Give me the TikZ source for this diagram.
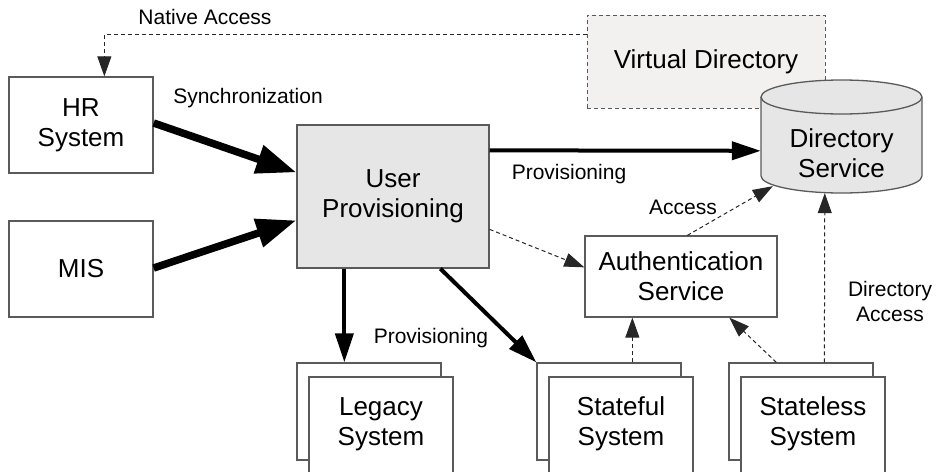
\documentclass[tikz,border=0pt]{standalone}
\usepackage{fontspec}
\setmainfont{Liberation Sans}
\usetikzlibrary{arrows.meta,calc}
\definecolor{edge}{HTML}{5A5A5A}
\definecolor{boxgray}{HTML}{E6E6E6}
\definecolor{vdgray}{HTML}{F2F1F0}
\tikzset{
  bigtext/.style={font=\fontsize{26}{30}\selectfont, align=center},
  lbl/.style={font=\fontsize{21}{25}\selectfont, align=center, inner sep=0pt},
  sysbox/.style={draw=edge, line width=1.3pt, fill=white, rectangle, inner sep=0pt,
    minimum width=144pt, minimum height=96pt, bigtext},
  stackback/.style={draw=edge, line width=1.3pt, fill=white, rectangle, inner sep=0pt,
    minimum width=144pt, minimum height=97pt},
  stackfront/.style={draw=edge, line width=1.3pt, fill=white, rectangle, inner sep=0pt,
    minimum width=144pt, minimum height=110pt},
  heavy/.style={line width=7.5pt, -{Triangle[length=40pt,width=28pt]}},
  medium/.style={line width=4pt, -{Triangle[length=29pt,width=18pt]}},
  dashlink/.style={line width=1pt, black!85, dash pattern=on 4pt off 3pt,
    -{Triangle[length=20pt,width=14pt]}},
}
\begin{document}
\begin{tikzpicture}[x=1pt,y=-1pt]
\useasboundingbox (0,0) rectangle (936,471);

% source systems
\node[sysbox] (hr)  at (81,125) {HR\\System};
\node[sysbox] (mis) at (81,269) {MIS};

% provisioning engine
\node[sysbox, fill=boxgray, minimum width=192pt, minimum height=143pt] (up) at (393,196.5) {User\\Provisioning};

% virtual directory (dashed)
\node[draw=edge, line width=1pt, dash pattern=on 4pt off 3pt, fill=vdgray, inner sep=0pt,
  minimum width=238pt, minimum height=93pt, bigtext] (vd) at (706,61.5) {Virtual Directory};

% directory service cylinder
\node[minimum width=161pt, minimum height=113pt, inner sep=0pt] (ds) at (841.5,136.5) {};
\fill[boxgray] (761,97) rectangle (922,176);
\fill[boxgray] (841.5,176) ellipse [x radius=80.5, y radius=17];
\fill[boxgray] (841.5,97) ellipse [x radius=80.5, y radius=17];
\draw[edge, line width=1.3pt] (761,97) -- (761,176)
  arc[start angle=180, end angle=0, x radius=80.5, y radius=17] -- (922,97);
\draw[edge, line width=1.3pt] (841.5,97) ellipse [x radius=80.5, y radius=17];
\node[bigtext, inner sep=0pt] (dstext) at (841.5,153) {Directory\\Service};

% authentication
\node[sysbox, minimum width=192pt, minimum height=81pt] (auth) at (681,276.5) {Authentication\\Service};

% stacked target systems (front sheet runs past the lower edge)
\node[stackback] (legb) at (369,411.5) {};
\node[stackfront] (leg) at (381,432) {};
\node[bigtext, inner sep=0pt] (legtext) at (381,424) {Legacy\\System};
\node[stackback] (sfb) at (609,411.5) {};
\node[stackfront] (sf) at (621,432) {};
\node[bigtext, inner sep=0pt] (sftext) at (621,424) {Stateful\\System};
\node[stackback] (slb) at (801,411.5) {};
\node[stackfront] (sl) at (813,432) {};
\node[bigtext, inner sep=0pt] (sltext) at (813,424) {Stateless\\System};

% labels
\node[lbl] (lnative) at (205,17) {Native Access};
\node[lbl] (lsync) at (248,98) {Synchronization};
\node[lbl] (lprov1) at (569,174) {Provisioning};
\node[lbl] (lprov2) at (431,338) {Provisioning};
\node[lbl] (lacc) at (683,207) {Access};
\node[lbl] (ldiracc) at (890,301) {Directory\\Access};

% connectors
\draw[dashlink] ($(vd.north west)+(0,20)$) -| ($(hr.north west)+(96,0)$);
\draw[heavy] ($(hr.east)+(0,-2)$) -- ($(up.north west)+(0,48)$);
\draw[heavy] ($(mis.east)+(0,-1)$) -- ($(up.north west)+(0,96)$);
\draw[medium] ($(up.north east)+(0,26)$) -- ($(ds.north west)+(0,71)$);
\draw[medium] ($(up.south west)+(48,0)$) -- ($(legb.north west)+(48,0)$);
\draw[medium] ($(up.south west)+(144,0)$) -- (sfb.north west);
\draw[dashlink] ($(up.north east)+(0,105)$) -- ($(auth.north west)+(0,32)$);
\draw[dashlink] ($(sfb.north west)+(96,0)$) -- ($(auth.south west)+(48,0)$);
\draw[dashlink] ($(slb.north west)+(48,0)$) -- ($(auth.south west)+(145,0)$);
\draw[dashlink] ($(slb.north west)+(96,0)$) -- ($(ds.south west)+(64,0)$);
\draw[dashlink] ($(auth.north west)+(103,0)$) -- ($(ds.south west)+(12,-7)$);
\end{tikzpicture}
\end{document}
